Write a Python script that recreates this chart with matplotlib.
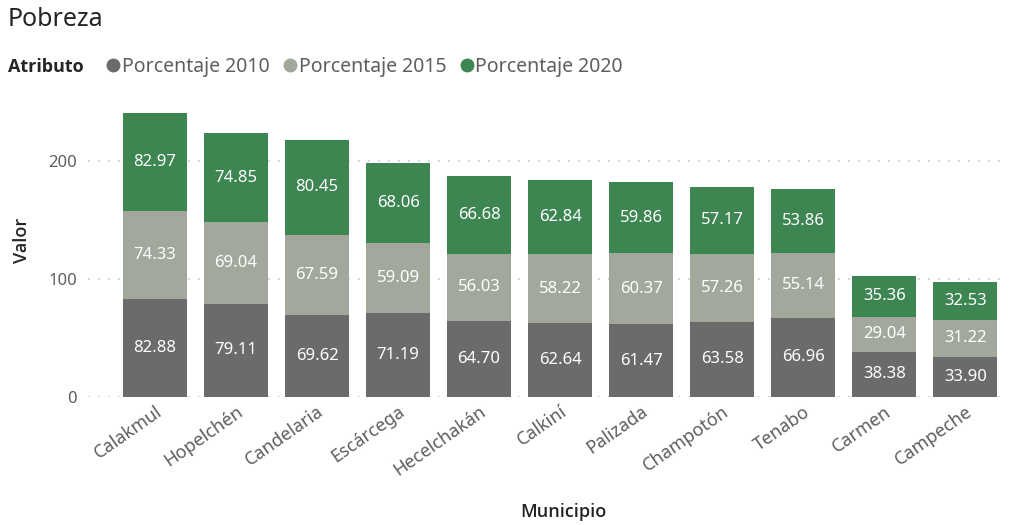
import matplotlib
matplotlib.use("Agg")
import matplotlib.pyplot as plt
from matplotlib.lines import Line2D
import numpy as np

municipios = ["Calakmul", "Hopelchén", "Candelaria", "Escárcega", "Hecelchakán", "Calkiní",
              "Palizada", "Champotón", "Tenabo", "Carmen", "Campeche"]
p2010 = [82.88, 79.11, 69.62, 71.19, 64.70, 62.64, 61.47, 63.58, 66.96, 38.38, 33.90]
p2015 = [74.33, 69.04, 67.59, 59.09, 56.03, 58.22, 60.37, 57.26, 55.14, 29.04, 31.22]
p2020 = [82.97, 74.85, 80.45, 68.06, 66.68, 62.84, 59.86, 57.17, 53.86, 35.36, 32.53]
series = ["Porcentaje 2010", "Porcentaje 2015", "Porcentaje 2020"]
yticks = [0, 100, 200]

colors = ["#6b6b6b", "#a2a89b", "#3d8652"]
plt.rcParams['font.family'] = ['Noto Sans', 'DejaVu Sans']
bold_family = ['Open Sans', 'DejaVu Sans']

fig = plt.figure(figsize=(10.12, 5.25), dpi=100)
ax = fig.add_axes([88/1012, 1-397/525, (1005-88)/1012, (397-111)/525])

x = np.arange(len(municipios))
bottom = np.zeros(len(municipios))
for vals, c in zip([p2010, p2015, p2020], colors):
    v = np.array(vals)
    ax.bar(x, v, bottom=bottom, width=0.79, color=c, zorder=3)
    for xi, b, vi in zip(x, bottom, v):
        ax.text(xi, b + vi/2, f"{vi:.2f}", ha='center', va='center', color='white',
                fontsize=12, zorder=4)
    bottom += v

ax.set_xlim(-0.827, 10.49)
ax.set_ylim(0, 242)
ax.set_yticks(yticks)
ax.set_yticklabels([str(t) for t in yticks], fontsize=12, color="#605e5c")
ax.grid(axis='y', linestyle=(0, (1, 5)), color='#c8c8c8', linewidth=1.2, zorder=0)
ax.set_xticks(x)
ax.set_xticklabels(municipios, rotation=35, ha='right', rotation_mode='anchor',
                   fontsize=13, color="#605e5c")
ax.tick_params(axis='x', length=0, pad=4)
ax.tick_params(axis='y', length=0, pad=8)
for s in ax.spines.values():
    s.set_visible(False)

fig.text(22/1012, 1-240/525, "Valor", rotation=90, ha='center', va='center',
         fontsize=13, color="#252423", fontweight='semibold', family=bold_family)
fig.text(563/1012, 1-512/525, "Municipio", ha='center', va='center',
         fontsize=13, color="#252423", fontweight='semibold', family=bold_family)
fig.text(8/1012, 1-19/525, "Pobreza", ha='left', va='center', fontsize=18, color="#252423")
fig.text(8/1012, 1-67/525, "Atributo", ha='left', va='center', fontsize=13,
         color="#252423", fontweight='bold', family=bold_family)

handles = [Line2D([0], [0], marker='o', linestyle='', markersize=9, color=c) for c in colors]
fig.legend(handles, series, loc='center left', bbox_to_anchor=(108/1012, 1-67/525),
           ncol=3, frameon=False, handlelength=0.5, handletextpad=0.2, columnspacing=0.8,
           borderpad=0, borderaxespad=0,
           prop={'size': 14}, labelcolor="#605e5c")

fig.savefig("out.png", dpi=100)
